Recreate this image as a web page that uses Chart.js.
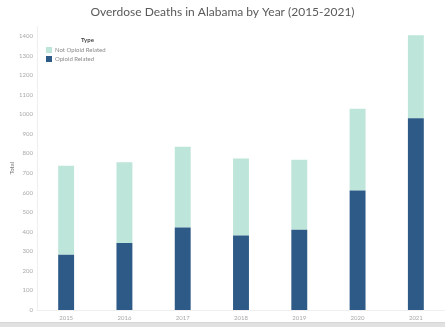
<!DOCTYPE html>
<html>
<head>
<meta charset="utf-8">
<script src="https://cdn.jsdelivr.net/npm/chart.js@4.4.0/dist/chart.umd.min.js"></script>
<style>
  body { margin: 0; background: #fff; font-family: Lato, "Open Sans", sans-serif; }
  #wrap { position: relative; width: 445px; height: 322px; }
  #legend { position: absolute; left: 46px; top: 35px; font-size: 6px; color: #8a8a8a; line-height: 9.5px; }
  #legend .head { color: #444; font-weight: bold; margin-left: 35px; margin-bottom: 0px; }
  #legend .sw { display: inline-block; width: 6px; height: 6px; margin-right: 3px; vertical-align: -1px; }
  #band { width: 445px; height: 5px; background: #e1e1e1; border-top: 1px solid #d6d6d6; box-sizing: border-box; }
</style>
</head>
<body>
<div id="wrap">
  <canvas id="barChart" width="445" height="322"></canvas>
  <div id="legend">
    <div class="head">Type</div>
    <div><span class="sw" style="background:#bee5d9"></span>Not Opioid Related</div>
    <div><span class="sw" style="background:#2d5a86"></span>Opioid Related</div>
  </div>
</div>
<div id="band"></div>
<script>
const years = ["2015", "2016", "2017", "2018", "2019", "2020", "2021"];
const opioidRelated = [282, 343, 422, 381, 410, 611, 980];
const notOpioidRelated = [456, 413, 413, 394, 358, 418, 425];
const yTicks = [0, 100, 200, 300, 400, 500, 600, 700, 800, 900, 1000, 1100, 1200, 1300, 1400];

const tickColor = "#a8a8a8";

const barData = {
  labels: years,
  datasets: [
    {
      label: "Opioid Related",
      data: opioidRelated,
      backgroundColor: "#2d5a86",
      barPercentage: 0.273,
      categoryPercentage: 1,
    },
    {
      label: "Not Opioid Related",
      data: notOpioidRelated,
      backgroundColor: "#bee5d9",
      barPercentage: 0.273,
      categoryPercentage: 1,
    },
  ],
};

const barOptions = {
  responsive: false,
  animation: false,
  layout: { padding: { top: 0, right: 0, bottom: 0, left: 0 } },
  plugins: {
    legend: { display: false },
    tooltip: { enabled: false },
    title: {
      display: true,
      text: "Overdose Deaths in Alabama by Year (2015-2021)",
      color: "#5a5a5a",
      font: { family: "Lato", size: 12, weight: "normal" },
      padding: { top: 5, bottom: 7 },
    },
  },
  scales: {
    x: {
      stacked: true,
      grid: { display: false, drawTicks: false },
      border: { color: "#efefef" },
      ticks: { color: tickColor, font: { family: "Lato", size: 6 }, padding: 4, maxRotation: 0 },
      afterFit: (s) => { s.height = 12; },
    },
    y: {
      stacked: true,
      min: 0,
      max: 1450,
      afterBuildTicks: (s) => { s.ticks = yTicks.map((v) => ({ value: v })); },
      grid: { display: false, drawTicks: false },
      border: { color: "#efefef" },
      ticks: {
        color: tickColor,
        font: { family: "Lato", size: 6 },
        padding: 4,
        callback: (v) => String(v),
      },
      title: { display: true, text: "Total", color: "#777", font: { family: "Lato", size: 6 }, padding: { top: 8 } },
      afterFit: (s) => { s.width = 37; },
    },
  },
};

const barCtx = document.getElementById("barChart").getContext("2d");
new Chart(barCtx, { type: "bar", data: barData, options: barOptions });
</script>
</body>
</html>
